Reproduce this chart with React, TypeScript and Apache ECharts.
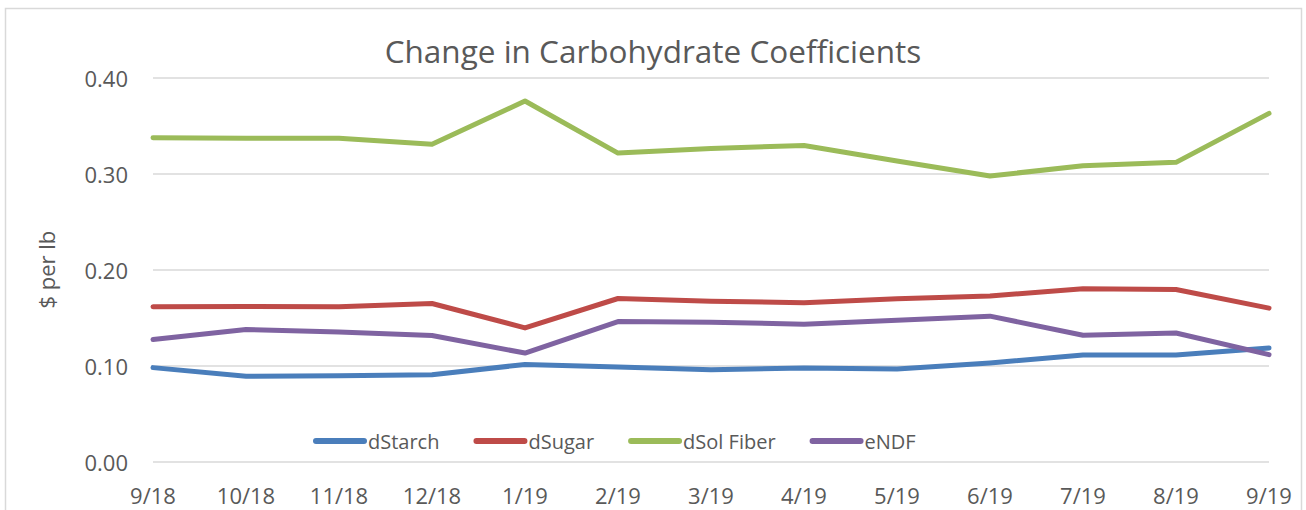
import React, { useEffect, useRef } from "react";
import * as echarts from "echarts";

const categories = ["9/18", "10/18", "11/18", "12/18", "1/19", "2/19", "3/19", "4/19", "5/19", "6/19", "7/19", "8/19", "9/19"];
const dStarch = [0.098, 0.089, 0.0895, 0.0905, 0.1013, 0.0986, 0.0958, 0.0976, 0.0965, 0.1028, 0.1111, 0.1111, 0.1185];
const dSugar = [0.1613, 0.1617, 0.1613, 0.1648, 0.1394, 0.17, 0.1672, 0.1655, 0.1697, 0.1727, 0.1801, 0.1794, 0.16];
const dSolFiber = [0.3375, 0.337, 0.337, 0.3306, 0.3757, 0.3215, 0.3263, 0.3294, 0.3133, 0.2976, 0.3083, 0.3118, 0.3628];
const eNDF = [0.1272, 0.1376, 0.1352, 0.1314, 0.1132, 0.146, 0.1453, 0.1432, 0.1473, 0.1516, 0.1317, 0.1341, 0.1115];
const yTicks = { min: 0, max: 0.4, interval: 0.1 };

const seriesDefs = [
  { name: "dStarch", data: dStarch, color: "#4A7EBB" },
  { name: "dSugar", data: dSugar, color: "#BE4B48" },
  { name: "dSol Fiber", data: dSolFiber, color: "#9BBB59" },
  { name: "eNDF", data: eNDF, color: "#7F63A1" },
];

const FONT = "'Open Sans', sans-serif";
const TXT = "#595959";

export default function App() {
  const ref = useRef<HTMLDivElement>(null);
  useEffect(() => {
    if (!ref.current) return;
    const chart = echarts.init(ref.current, undefined, { renderer: "svg" });
    chart.setOption({
      animation: false,
      backgroundColor: "#ffffff",
      title: {
        text: "Change in Carbohydrate Coefficients",
        left: "center",
        top: 29,
        textStyle: { fontFamily: FONT, fontSize: 31.5, fontWeight: "normal", color: TXT },
      },
      graphic: [
        {
          type: "rect",
          shape: { x: 5.5, y: 8.5, width: 1296, height: 520 },
          style: { fill: "none", stroke: "#D9D9D9", lineWidth: 1.5 },
          silent: true,
          z: -1,
        },
      ],
      legend: {
        left: 308,
        top: 426,
        itemWidth: 54,
        itemHeight: 6,
        itemGap: 34,
        icon: "path://M3,0 H51 A3,3 0 0 1 51,6 H3 A3,3 0 0 1 3,0 Z",
        textStyle: { fontFamily: FONT, fontSize: 20, color: TXT, padding: [0, 0, 0, -4] },
        data: seriesDefs.map((s) => s.name),
      },
      grid: { left: 153, right: 37, top: 77.7, bottom: 48.3 },
      xAxis: {
        type: "category",
        data: categories,
        boundaryGap: false,
        axisLine: { show: false },
        axisTick: { show: false },
        axisLabel: { fontFamily: FONT, fontSize: 22, color: TXT, margin: 22 },
      },
      yAxis: {
        type: "value",
        min: yTicks.min,
        max: yTicks.max,
        interval: yTicks.interval,
        name: "$ per lb",
        nameLocation: "middle",
        nameGap: 96,
        nameTextStyle: { fontFamily: FONT, fontSize: 22, color: TXT },
        axisLine: { show: false },
        axisTick: { show: false },
        splitLine: { lineStyle: { color: "#D9D9D9", width: 1.5 } },
        axisLabel: {
          fontFamily: FONT,
          fontSize: 22,
          color: TXT,
          margin: 25,
          formatter: (v: number) => v.toFixed(2),
        },
      },
      series: seriesDefs.map((s) => ({
        name: s.name,
        type: "line",
        data: s.data,
        symbol: "none",
        color: s.color,
        lineStyle: { width: 5, color: s.color, cap: "round", join: "round" },
      })),
    });
    return () => chart.dispose();
  }, []);
  return (
    <div
      ref={ref}
      style={{ position: "fixed", left: 0, top: 0, width: 1306, height: 510 }}
    />
  );
}
